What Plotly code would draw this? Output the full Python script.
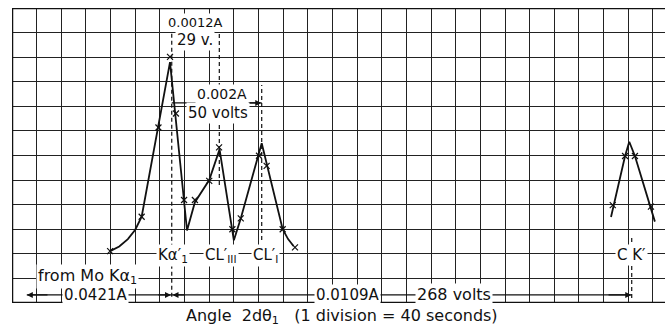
import plotly.graph_objects as go

# ---- data (in grid divisions) ----
marker_x = [3.98, 5.26, 5.94, 6.41, 6.65, 6.98, 7.42, 8.00, 8.40, 8.94, 9.28, 10.02, 10.33, 10.98, 11.48,
            24.37, 24.87, 25.27, 25.92]
marker_y = [2.11, 3.51, 7.14, 10.01, 7.71, 4.19, 4.19, 4.97, 6.33, 3.00, 3.44, 5.99, 5.58, 3.00, 2.26,
            3.98, 5.98, 5.98, 3.92]

curve_x = [3.98, 4.35, 4.70, 5.00, 5.26, 5.94, 6.41, 7.10, 7.42, 8.00, 8.42, 9.00, 9.28, 10.13, 10.98, 11.20, 11.42]
curve_y = [2.11, 2.30, 2.60, 2.98, 3.51, 7.14, 9.80, 2.95, 4.10, 5.00, 6.25, 2.55, 3.44, 6.50, 3.00, 2.60, 2.32]

ck_x = [24.30, 24.87, 25.04, 25.27, 26.08]
ck_y = [3.50, 5.98, 6.56, 5.98, 3.31]

line_labels = ["Kα′<sub>1</sub>", "CL′<sub>III</sub>", "CL′<sub>I</sub>", "C K′"]
line_pos = [6.48, 8.41, 10.13, 25.14]

X_MAX = 26.49
Y_MAX = 12

FONT = "DejaVu Sans"
INK = "#111"

fig = go.Figure()
fig.add_trace(go.Scatter(x=curve_x, y=curve_y, mode="lines",
                         line=dict(color=INK, width=1.8), hoverinfo="skip"))
fig.add_trace(go.Scatter(x=ck_x, y=ck_y, mode="lines",
                         line=dict(color=INK, width=1.8), hoverinfo="skip"))
fig.add_trace(go.Scatter(x=marker_x, y=marker_y, mode="markers",
                         marker=dict(symbol="x-thin", size=6, line=dict(color=INK, width=1.2)),
                         hoverinfo="skip"))

shapes = []
# borders
shapes.append(dict(type="line", xref="x", yref="y", x0=0, x1=X_MAX, y0=Y_MAX, y1=Y_MAX, line=dict(color=INK, width=2.5)))
shapes.append(dict(type="line", xref="x", yref="y", x0=0, x1=X_MAX, y0=0, y1=0, line=dict(color=INK, width=2.5)))
shapes.append(dict(type="line", xref="x", yref="y", x0=0, x1=0, y0=0, y1=Y_MAX, line=dict(color=INK, width=2.5)))

# dashed reference lines
dash_spans = [(line_pos[0], 0.25, 11.72), (line_pos[1], 4.8, 11.72), (line_pos[2], 2.56, 8.87), (line_pos[3], 0.2, 2.77)]
for xv, y0, y1 in dash_spans:
    shapes.append(dict(type="line", xref="x", yref="y", x0=xv, x1=xv, y0=y0, y1=y1,
                       line=dict(color=INK, width=1.2, dash="4px,3px")))

# horizontal dimension lines
shapes.append(dict(type="line", xref="x", yref="y", x0=0.6, x1=line_pos[0], y0=0.33, y1=0.33, line=dict(color=INK, width=1.2)))
shapes.append(dict(type="line", xref="x", yref="y", x0=line_pos[0], x1=line_pos[3], y0=0.33, y1=0.33, line=dict(color=INK, width=1.2)))
shapes.append(dict(type="line", xref="x", yref="y", x0=line_pos[0], x1=line_pos[1], y0=11.15, y1=11.15, line=dict(color=INK, width=1.2)))
shapes.append(dict(type="line", xref="x", yref="y", x0=line_pos[0], x1=line_pos[2], y0=8.14, y1=8.14, line=dict(color=INK, width=1.2)))

annotations = []
def arrow(xh, yh, xt, yt):
    annotations.append(dict(x=xh, y=yh, ax=xt, ay=yt, xref="x", yref="y", axref="x", ayref="y",
                            text="", showarrow=True, arrowhead=2, arrowsize=1, arrowwidth=1.2, arrowcolor=INK))

arrow(0.6, 0.33, 1.5, 0.33)
arrow(line_pos[0] - 0.03, 0.33, line_pos[0] - 0.6, 0.33)
arrow(line_pos[0] + 0.03, 0.33, line_pos[0] + 0.6, 0.33)
arrow(line_pos[3] - 0.02, 0.33, line_pos[3] - 1.0, 0.33)
arrow(line_pos[0] + 0.02, 11.15, line_pos[0] + 0.8, 11.15)
arrow(line_pos[1] - 0.02, 11.15, line_pos[1] - 0.8, 11.15)
arrow(line_pos[2] - 0.02, 8.14, line_pos[2] - 0.8, 8.14)

def label(x, y, text, size=14, family=FONT):
    annotations.append(dict(x=x, y=y, xref="x", yref="y", text=text, showarrow=False,
                            font=dict(family=family, size=size, color=INK),
                            bgcolor="white", borderpad=1, xanchor="center", yanchor="middle"))

label(7.42, 11.42, "0.0012A", 13)
label(7.42, 10.68, "29 v.", 15)
label(8.51, 8.50, "0.002A", 14)
label(8.36, 7.73, "50 volts", 15)
label(6.55, 1.95, line_labels[0], 15)
label(8.46, 1.95, line_labels[1], 15)
label(10.28, 1.95, line_labels[2], 15)
label(line_pos[3], 1.95, line_labels[3], 15)
label(3.08, 1.06, "from Mo Kα<sub>1</sub>", 16)
label(3.37, 0.33, "0.0421A", 15)
label(13.63, 0.33, "0.0109A", 15)
label(17.93, 0.33, "268 volts", 16)

annotations.append(dict(x=0.505, y=-0.003, xref="paper", yref="paper", yanchor="top", xanchor="center",
                        text="Angle  2dθ<sub>1</sub>   (1 division = 40 seconds)", showarrow=False,
                        font=dict(family=FONT, size=16, color=INK)))

fig.update_layout(
    width=665, height=326,
    margin=dict(l=12, r=0, t=8, b=23),
    paper_bgcolor="white", plot_bgcolor="white",
    showlegend=False,
    shapes=shapes, annotations=annotations,
    xaxis=dict(range=[0, X_MAX], dtick=1, tick0=0, showgrid=True, gridcolor="#222", gridwidth=1.2,
               showticklabels=False, ticks="", zeroline=False, showline=False, fixedrange=True),
    yaxis=dict(range=[0, Y_MAX], dtick=1, tick0=0, showgrid=True, gridcolor="#222", gridwidth=1.2,
               showticklabels=False, ticks="", zeroline=False, showline=False, fixedrange=True),
)

fig.write_html("out.html", config={"displayModeBar": False},
               post_script="document.body.style.margin='0';document.body.style.overflow='hidden';")
